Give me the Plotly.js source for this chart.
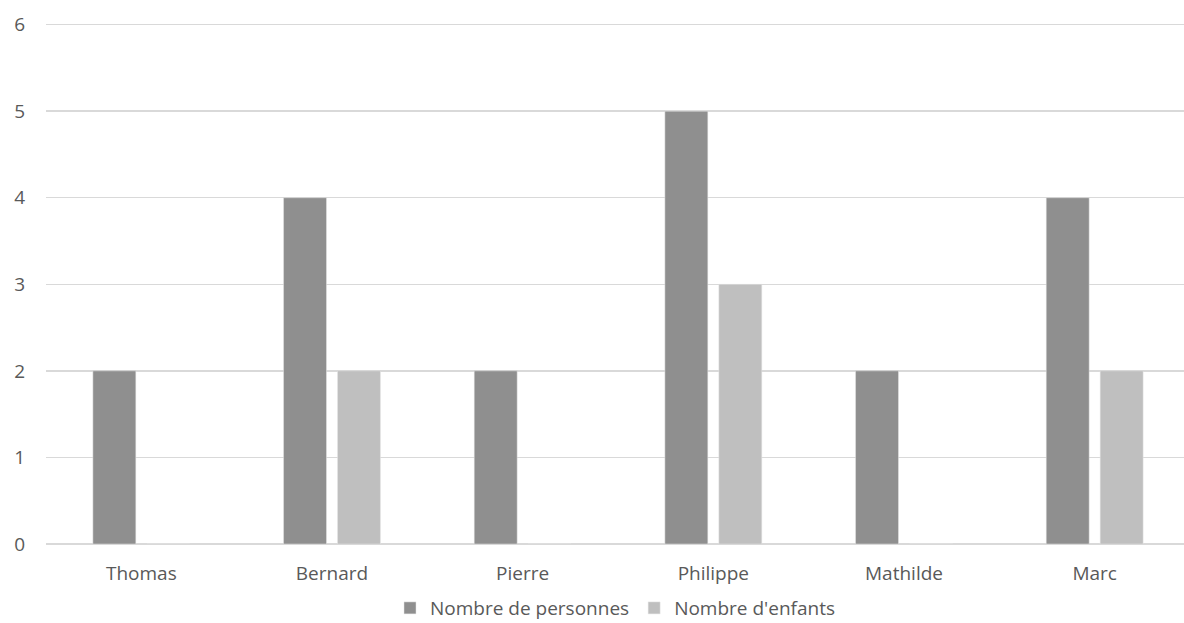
<!DOCTYPE html>
<html>
<head>
<meta charset="utf-8">
<script src="https://cdn.plot.ly/plotly-3.0.1.min.js"></script>
<style>html,body{margin:0;padding:0;background:#fff;}#chart{width:1184px;height:623px;}</style>
</head>
<body>
<div id="chart"></div>
<script>
const categories = ["Thomas", "Bernard", "Pierre", "Philippe", "Mathilde", "Marc"];
const personnes = [2, 4, 2, 5, 2, 4];
const enfants = [0, 2, 0, 3, 0, 2];
const seriesNames = ["Nombre de personnes", "Nombre d'enfants"];
const yTicks = [0, 1, 2, 3, 4, 5, 6];

const font = {family: "Open Sans, sans-serif", size: 19, color: "#595959"};

const traces = [
  {type: "bar", name: seriesNames[0], x: categories, y: personnes,
   marker: {color: "#8f8f8f", line: {color: "#e6e6e6", width: 0.5}}},
  {type: "bar", name: seriesNames[1], x: categories, y: enfants,
   marker: {color: "#bfbfbf", line: {color: "#e6e6e6", width: 0.5}}}
];

const layout = {
  width: 1184, height: 623,
  margin: {l: 46, r: 0, t: 22, b: 79, autoexpand: false},
  paper_bgcolor: "#fff", plot_bgcolor: "#fff",
  font: font,
  barmode: "group",
  bargap: 0.434,
  bargroupgap: 0.204,
  showlegend: true,
  legend: {orientation: "h", x: 0.5, xanchor: "center", xref: "paper",
           yref: "container", y: 0.024, yanchor: "middle",
           font: font, itemwidth: 30, tracegroupgap: 0},
  xaxis: {type: "category", range: [-0.5, 5.4685], showgrid: false, zeroline: false,
          showline: false, ticks: "outside", ticklen: 12, tickcolor: "rgba(0,0,0,0)",
          tickfont: font, fixedrange: true},
  yaxis: {range: [0, 6.03], tickvals: yTicks, showgrid: true, gridcolor: "#d9d9d9", gridwidth: 1.5,
          zeroline: true, zerolinecolor: "#d9d9d9", zerolinewidth: 1.5, showline: false,
          ticks: "outside", ticklen: 16, tickcolor: "rgba(0,0,0,0)", tickfont: font, fixedrange: true}
};

Plotly.newPlot("chart", traces, layout, {displayModeBar: false, staticPlot: true});
</script>
</body>
</html>
